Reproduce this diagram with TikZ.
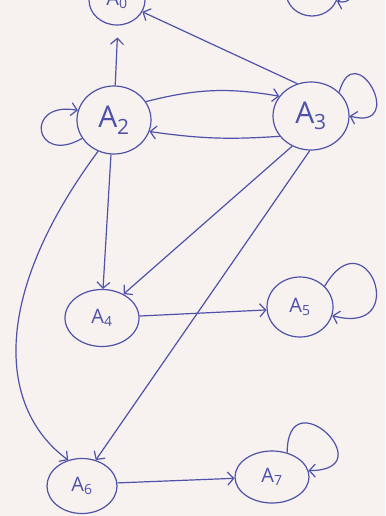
\documentclass[tikz,border=0pt]{standalone}
\usepackage{fontspec}
\newfontfamily\handfont{Open Sans}
\usetikzlibrary{arrows.meta, shapes.geometric}
\definecolor{ink}{RGB}{78,82,168}
\definecolor{paper}{RGB}{247,242,240}
\tikzstyle{state}=[shape=ellipse, draw=ink, line width=1.2pt, inner sep=0pt, minimum width=70pt, minimum height=58pt, text=ink, font=\handfont\fontsize{20}{20}\selectfont]
\tikzstyle{bigstate}=[state, minimum width=74pt, minimum height=68pt, font=\handfont\fontsize{30}{30}\selectfont]
\tikzstyle{conn}=[draw=ink, line width=1.2pt, -{Straight Barb[length=6pt,width=13pt]}]

\begin{document}
\begin{tikzpicture}[x=1pt,y=1pt]
\useasboundingbox (0,0) rectangle (385,-516);
\fill[paper] (0,0) rectangle (385,-516);
\clip (0,0) rectangle (385,-516);
% top row, cut off by the edge of the sheet
\node[state, minimum width=56pt, minimum height=50pt] (A0) at (117,0) {A\textsubscript{0}};
\node[state, minimum width=52pt, minimum height=48pt] (A1) at (312,8) {A\textsubscript{1}};
\node[bigstate] (A2) at (114,-120) {A\textsubscript{2}};
\node[bigstate, minimum width=76pt] (A3) at (311,-116) {A\textsubscript{3}};
\foreach \i/\x/\y/\w/\h in {4/102/318/74/57, 5/300/307/66/60, 6/82/486/70/55, 7/272/477/74/52}{
	\node[state, minimum width=\w pt, minimum height=\h pt] (A\i) at (\x,-\y) {A\textsubscript{\i}};
}
%edges
\path (A2.88) edge [conn, shorten >=12pt] (A0.-88)
	(A3.113) edge [conn] (A0.-25)
	(A2.30) edge [conn, bend left=12] (A3.148)
	(A3.-147) edge [conn, bend left=6] (A2.-18)
	(A2.-95) edge [conn] (A4.88)
	(A3.-122) edge [conn] (A4.48)
	(A3.-92) edge [conn] (A6.62)
	(A4.3) edge [conn] (A5.185)
	(A6.5) edge [conn] (A7.182);
\draw[conn] (A2.-117) .. controls (-12,-300) and (0,-410) .. (A6.118);
%loops
\path (A2.-150) edge [conn, out=-150, in=170, looseness=5] (A2.165)
	(A3.40) edge [conn, out=75, in=-15, looseness=6] (A3.0)
	(A5.40) edge [conn, out=60, in=-15, looseness=7] (A5.-15)
	(A7.58) edge [conn, out=90, in=0, looseness=7] (A7.10)
	(A1.25) edge [conn, out=30, in=-15, looseness=3] (A1.-20);
\end{tikzpicture}
\end{document}
